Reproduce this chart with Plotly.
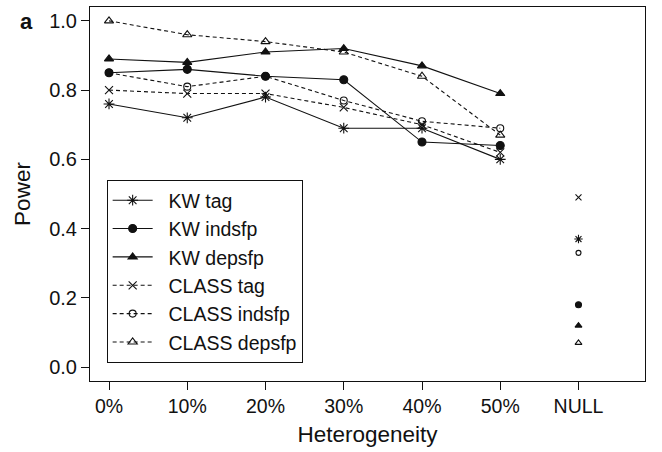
import plotly.graph_objects as go

het_labels = ["0%", "10%", "20%", "30%", "40%", "50%"]
null_label = "NULL"

series_names = ["KW tag", "KW indsfp", "KW depsfp", "CLASS tag", "CLASS indsfp", "CLASS depsfp"]
kw_tag = [0.76, 0.72, 0.78, 0.69, 0.69, 0.60]
kw_indsfp = [0.85, 0.86, 0.84, 0.83, 0.65, 0.64]
kw_depsfp = [0.89, 0.88, 0.91, 0.92, 0.87, 0.79]
class_tag = [0.80, 0.79, 0.79, 0.75, 0.70, 0.62]
class_indsfp = [0.85, 0.81, 0.84, 0.77, 0.71, 0.69]
class_depsfp = [1.00, 0.96, 0.94, 0.91, 0.84, 0.67]
null_values = [0.37, 0.18, 0.12, 0.49, 0.33, 0.07]

values = [kw_tag, kw_indsfp, kw_depsfp, class_tag, class_indsfp, class_depsfp]
symbols = ["asterisk-open", "circle", "triangle-up", "x-thin-open", "circle-open", "triangle-up-open"]
sizes = [9, 8, 8, 8, 7, 8]
dashes = ["solid", "solid", "solid", "4px,3px", "4px,3px", "4px,3px"]

x_het = list(range(len(het_labels)))
x_null = len(het_labels)
ink = "#111111"

fig = go.Figure()
for name, vals, sym, sz, dsh in zip(series_names, values, symbols, sizes, dashes):
    fig.add_trace(go.Scatter(
        x=x_het, y=vals, name="&nbsp;&nbsp;" + name, mode="lines+markers",
        line=dict(color=ink, width=1.1, dash=dsh),
        marker=dict(symbol=sym, size=sz, color=ink, line=dict(color=ink, width=1.1)),
    ))
for name, v, sym, sz in zip(series_names, null_values, symbols, sizes):
    fig.add_trace(go.Scatter(
        x=[x_null], y=[v], name=name, mode="markers", showlegend=False,
        marker=dict(symbol=sym, size=sz - 2, color=ink, line=dict(color=ink, width=1.1)),
    ))

font_family = "Liberation Sans, Arial, sans-serif"
fig.update_layout(
    width=662, height=452,
    margin=dict(l=90, r=17, t=7, b=71),
    paper_bgcolor="white", plot_bgcolor="white",
    font=dict(family=font_family, color="#111111", size=19),
    showlegend=True,
    legend=dict(
        x=0.03, y=0.048, xanchor="left", yanchor="bottom",
        bordercolor="#111111", borderwidth=1, bgcolor="white",
        font=dict(size=19.5, family=font_family), itemwidth=40,
        tracegroupgap=0,
    ),
    xaxis=dict(
        range=[-0.243, 6.85], tickmode="array",
        tickvals=x_het + [x_null], ticktext=het_labels + [null_label],
        showgrid=False, zeroline=False, showline=True, linecolor="#111111", linewidth=1,
        mirror=True, ticks="outside", ticklen=8, tickcolor="#111111",
        tickfont=dict(size=19.5),
        title=dict(text="Heterogeneity", font=dict(size=22.5), standoff=9),
    ),
    yaxis=dict(
        range=[-0.04, 1.04], tickmode="array",
        tickvals=[0, 0.2, 0.4, 0.6, 0.8, 1.0], ticktext=["0.0", "0.2", "0.4", "0.6", "0.8", "1.0"],
        showgrid=False, zeroline=False, showline=True, linecolor="#111111", linewidth=1,
        mirror=True, ticks="outside", ticklen=8, tickcolor="#111111",
        tickfont=dict(size=20),
        title=dict(text="Power", font=dict(size=22.5), standoff=12),
    ),
    annotations=[dict(
        text="<b>a</b>", xref="paper", yref="paper", x=-0.13, y=1.0,
        xanchor="left", yanchor="top", showarrow=False, font=dict(size=22, color="#111111"),
    )],
)

fig.write_html("out.html")
